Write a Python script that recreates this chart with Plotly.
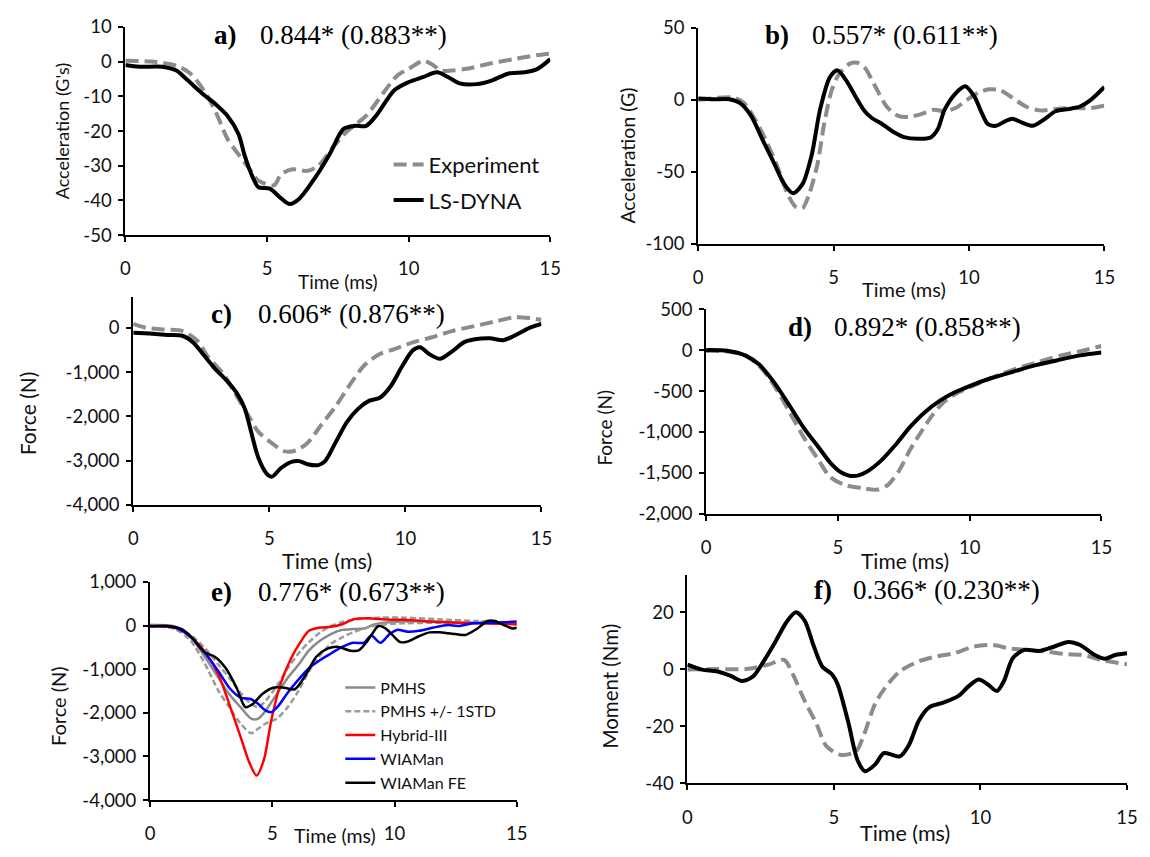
import plotly.graph_objects as go

PAGE_W, PAGE_H = 1150, 857
OFF = 8  # default body margin of the html page
W, H = PAGE_W - 2 * OFF, PAGE_H - 2 * OFF

# ---------------- data ----------------
# a) head acceleration
A_T_EXP = [0, 0.9, 1.8, 2.3, 2.8, 3.2, 3.6, 4.0, 4.35, 4.7, 5.25, 5.5, 5.9, 6.4, 6.8, 7.3, 7.8, 8.5, 9.1, 9.6, 10, 10.5, 10.8, 11.15, 11.5, 12.05, 12.8, 13.7, 14.5, 15]
A_EXP = [0.2, 0, -1.2, -3.5, -8.7, -14.7, -22.2, -26.8, -30.6, -34.3, -35.6, -32.4, -31, -31.5, -30.1, -25, -20.3, -15.6, -9.1, -4, -2.1, 0.2, -0.7, -2.6, -2.6, -2.1, -0.7, 0.7, 1.8, 2.3]
A_T_LS = [0, 0.5, 1.3, 1.8, 2.2, 2.7, 3.2, 3.6, 4.0, 4.2, 4.5, 4.7, 5.1, 5.5, 5.8, 6.15, 6.7, 7.2, 7.7, 8.1, 8.5, 8.85, 9.5, 10, 10.5, 11, 11.4, 11.8, 12.4, 12.95, 13.5, 14.1, 14.55, 15]
A_LS = [-1, -1.5, -1.5, -2.6, -5.4, -9.1, -12.4, -15.6, -21, -26.8, -33.4, -36.2, -36.6, -39.4, -41, -39.4, -33.4, -26.8, -19.4, -18.5, -18.5, -15.6, -8.2, -5.9, -4.5, -3.1, -4.5, -6.3, -6.5, -5.4, -3.5, -3.1, -2.1, 0.7]

# b) acceleration
B_T_EXP = [0, 1.3, 1.7, 2.1, 2.5, 2.9, 3.3, 3.6, 3.85, 4.1, 4.4, 4.66, 4.93, 5.2, 5.6, 5.88, 6.15, 6.55, 6.96, 7.36, 7.77, 8.18, 8.7, 9.1, 9.5, 9.93, 10.34, 10.74, 11.15, 11.55, 12.1, 12.6, 13.2, 13.85, 14.5, 15]
B_EXP = [0, 1.5, -2.3, -13.6, -28.1, -45, -65.2, -74.2, -75.3, -65.2, -45, -15.8, 6.7, 17.9, 25.1, 25.7, 22.4, 8.9, -4.6, -10.9, -11.8, -10.2, -6.8, -7.9, -5.7, 0, 4.9, 7.3, 6.7, 2.2, -4.6, -7.3, -6.3, -5.7, -5.7, -4.1]
B_T_LS = [0, 0.6, 1.15, 1.55, 1.96, 2.36, 2.77, 3.18, 3.5, 3.85, 4.19, 4.5, 4.86, 5.14, 5.47, 5.88, 6.15, 6.4, 6.8, 7.23, 7.6, 8.2, 8.6, 8.85, 9.1, 9.5, 9.86, 10.2, 10.47, 10.7, 11.0, 11.35, 11.6, 11.96, 12.36, 12.77, 13.2, 13.7, 14.1, 14.5, 15]
B_LS = [1, 0.4, 0.4, -2.3, -11.3, -27, -42.7, -58.5, -64.8, -58.5, -38.3, -6.8, 15.6, 20.6, 13.4, 0, -7.9, -12.4, -16.9, -22.5, -25.9, -27, -25.9, -20.3, -6.8, 4.4, 9.4, 2.2, -9, -16.9, -18, -14.7, -13.1, -15.8, -18, -13.6, -7.9, -6.3, -4.6, 0, 8.9]

# c) force
C_T_EXP = [0, 0.47, 1.14, 1.8, 2.35, 2.75, 3.3, 3.8, 4.23, 4.6, 5.17, 5.57, 5.97, 6.4, 6.9, 7.45, 8.0, 8.5, 9.06, 9.6, 10.27, 10.94, 11.74, 12.55, 13.36, 14.0, 14.56, 15]
C_EXP = [90, 0, -40, -70, -290, -660, -1030, -1540, -1980, -2350, -2640, -2790, -2770, -2600, -2200, -1760, -1250, -840, -590, -480, -330, -220, -70, 40, 150, 235, 220, 180]
C_T_LS = [0, 0.6, 1.27, 1.8, 2.2, 2.6, 3.0, 3.4, 3.8, 4.1, 4.36, 4.6, 4.9, 5.1, 5.44, 5.84, 6.1, 6.4, 6.8, 7.05, 7.45, 7.85, 8.26, 8.66, 9.06, 9.46, 9.87, 10.27, 10.54, 10.87, 11.27, 11.68, 12.15, 12.55, 13.1, 13.6, 14.0, 14.56, 15]
C_LS = [-110, -130, -160, -180, -330, -620, -920, -1170, -1470, -1830, -2420, -2940, -3290, -3360, -3160, -3020, -3010, -3080, -3100, -3010, -2570, -2130, -1830, -1650, -1580, -1320, -880, -510, -440, -590, -700, -550, -330, -260, -235, -280, -180, 0, 90]

# d) force
D_T_EXP = [0, 0.8, 1.5, 2.05, 2.6, 3.17, 3.72, 4.28, 4.7, 5.25, 5.94, 6.5, 6.9, 7.33, 7.75, 8.17, 8.58, 9.0, 9.55, 10.1, 10.94, 11.78, 12.6, 13.44, 14.28, 15]
D_EXP = [-8, -16, -67, -205, -442, -758, -1074, -1351, -1548, -1647, -1687, -1706, -1647, -1469, -1213, -995, -798, -640, -521, -442, -324, -225, -146, -67, -8, 51]
D_T_LS = [0, 0.8, 1.5, 2.05, 2.6, 3.17, 3.72, 4.28, 4.7, 5.1, 5.6, 6.08, 6.64, 7.2, 7.75, 8.3, 8.86, 9.4, 9.97, 10.8, 11.64, 12.47, 13.3, 14.14, 15]
D_LS = [0, -8, -67, -186, -403, -680, -956, -1193, -1371, -1489, -1540, -1489, -1351, -1153, -936, -758, -620, -521, -442, -344, -265, -186, -126, -67, -28]

# e) force, several surrogates
E_T_PMHS = [0, 1.0, 1.6, 2.2, 2.8, 3.24, 3.7, 4.14, 4.43, 4.73, 5.18, 5.63, 6.07, 6.5, 6.96, 7.4, 7.86, 8.3, 8.75, 9.2, 9.94, 11.13, 12.6, 14.1, 15]
E_PMHS = [10, -20, -230, -680, -1200, -1575, -1870, -2135, -2135, -1950, -1575, -1200, -900, -570, -345, -195, -100, -80, -70, 30, 80, 100, 65, 50, 30]
E_T_UP = [0, 1.0, 1.6, 2.2, 2.8, 3.24, 3.7, 4.14, 4.43, 4.73, 5.18, 5.63, 6.07, 6.5, 6.96, 7.4, 7.86, 8.45, 9.35, 10.4, 11.9, 13.36, 15]
E_UP = [10, -30, -195, -490, -900, -1200, -1540, -1800, -1870, -1720, -1390, -980, -640, -380, -157, -10, 80, 140, 180, 180, 140, 105, 65]
E_T_LO = [0, 1.0, 1.6, 2.2, 2.8, 3.24, 3.7, 4.14, 4.43, 4.73, 5.18, 5.63, 6.07, 6.5, 6.96, 7.4, 7.86, 8.3, 8.9, 9.64, 10.4, 11.9, 15]
E_LO = [-10, -80, -305, -830, -1500, -1870, -2245, -2470, -2360, -2245, -2135, -1870, -1500, -1050, -680, -420, -270, -157, -45, 30, 50, 65, 50]
E_T_H3 = [0, 1.0, 1.46, 1.9, 2.35, 2.8, 3.24, 3.7, 4.06, 4.36, 4.66, 4.96, 5.33, 5.77, 6.15, 6.5, 6.96, 7.4, 7.86, 8.3, 8.9, 9.64, 10.4, 11.9, 13.36, 15]
E_H3 = [-10, -45, -157, -380, -680, -1130, -1800, -2545, -3140, -3440, -3070, -2170, -1350, -750, -380, -120, -45, -30, 30, 140, 165, 140, 130, 80, 50, 30]
E_T_WI = [0, 1.0, 1.6, 2.2, 2.8, 3.24, 3.7, 4.14, 4.43, 4.73, 4.96, 5.25, 5.63, 6.07, 6.5, 6.96, 7.4, 7.86, 8.3, 8.75, 9.05, 9.42, 9.8, 10.1, 10.54, 11.0, 11.6, 12.2, 12.6, 13.2, 14.1, 15]
E_WI = [-10, -45, -230, -600, -1050, -1425, -1650, -1690, -1800, -1950, -1985, -1840, -1540, -1240, -980, -790, -640, -490, -395, -395, -230, -395, -195, -100, -140, -120, -45, 10, -10, 50, 65, 90]
E_T_FE = [0, 0.7, 1.3, 1.76, 2.2, 2.65, 3.1, 3.54, 3.9, 4.2, 4.58, 5.03, 5.48, 5.92, 6.37, 6.8, 7.26, 7.7, 8.15, 8.53, 8.9, 9.35, 9.64, 9.94, 10.24, 10.54, 11.0, 11.43, 11.9, 12.5, 12.9, 13.36, 13.8, 14.1, 14.55, 14.85, 15]
E_FE = [-20, -10, -80, -305, -600, -715, -980, -1425, -1870, -1800, -1575, -1425, -1425, -1460, -1130, -715, -530, -490, -570, -570, -345, -10, -70, -230, -380, -365, -245, -157, -157, -195, -215, -80, 105, 105, -10, -70, -45]

# f) moment
F_T_EXP = [0, 1.0, 2.0, 2.75, 3.3, 3.6, 4.0, 4.4, 4.75, 5.25, 5.75, 6.0, 6.4, 6.75, 7.25, 7.9, 8.5, 9.1, 9.75, 10.4, 11.0, 11.6, 12.25, 12.9, 13.5, 14.1, 15]
F_EXP = [-0.1, 0.1, 0.1, 1.6, 3.3, -1.8, -11, -19, -27, -30, -28.8, -23.6, -12.2, -6.4, -0.7, 2.8, 4.5, 5.6, 7.9, 8.5, 7.3, 6.8, 6.2, 5.3, 5, 3.3, 1.8]
F_T_LS = [0, 0.5, 1.0, 1.5, 1.88, 2.25, 2.6, 3.0, 3.38, 3.7, 4.0, 4.3, 4.6, 4.94, 5.13, 5.5, 5.8, 6.06, 6.4, 6.7, 7.0, 7.25, 7.56, 7.9, 8.25, 8.75, 9.25, 9.6, 9.94, 10.25, 10.56, 10.8, 11.1, 11.5, 12.0, 12.5, 13.0, 13.4, 13.9, 14.25, 14.6, 15]
F_LS = [1.6, -0.1, -0.7, -2.4, -4.1, -2.4, 2.8, 9.6, 16.5, 20, 17.1, 8.5, 1, -1.8, -5.3, -19, -31.7, -35.7, -33.4, -29.4, -30, -30.5, -26.5, -17.9, -13.3, -11.6, -9.3, -5.9, -3.6, -5.3, -7.6, -4.1, 3.9, 6.8, 6.4, 7.9, 9.6, 8.5, 5, 3.7, 5, 5.6]

X_TICKS = [0, 5, 10, 15]
A_TICKS = [-50, -40, -30, -20, -10, 0, 10]
B_TICKS = [-100, -50, 0, 50]
C_TICKS = [-4000, -3000, -2000, -1000, 0]
D_TICKS = [-2000, -1500, -1000, -500, 0, 500]
E_TICKS = [-4000, -3000, -2000, -1000, 0, 1000]
F_TICKS = [-40, -20, 0, 20]

LABELS = ["a)", "b)", "c)", "d)", "e)", "f)"]
SCORES = ["0.844* (0.883**)", "0.557* (0.611**)", "0.606* (0.876**)",
          "0.892* (0.858**)", "0.776* (0.673**)", "0.366* (0.230**)"]
Y_TITLES = ["Acceleration (G's)", "Acceleration (G)", "Force (N)", "Force (N)", "Force (N)", "Moment (Nm)"]
X_TITLE = "Time (ms)"


def lab(v):
    s = f"{abs(v):,}"
    return ("-" + s) if v < 0 else s


# positions below are given in page pixels; convert to paper fractions
def fx(px):
    return (px - OFF) / W


def fy(py):
    return 1 - (py - OFF) / H


GRAY = "#8c8c8c"
FONT = "Lato, 'Open Sans', sans-serif"
SERIF = "'Liberation Serif', 'DejaVu Serif', serif"
TXT = "#111111"

fig = go.Figure()

# panel geometry in page pixels: (x_left, x_right, y_top, y_bottom, yrange, yticks)
panels = [
    (122, 553, 15, 229, [-50, 10], A_TICKS),
    (703, 1115, 16, 238, [-100, 50], B_TICKS),
    (130, 544, 292, 506, [-4000, 705], C_TICKS),
    (711, 1112, 305, 515, [-2000, 500], D_TICKS),
    (147, 519, 585, 809, [-4000, 1000], E_TICKS),
    (692, 1138, 578, 792, [-40, 33], F_TICKS),
]

layout = {}
for i, (xl, xr, yt, yb, yr, yt_vals) in enumerate(panels):
    n = "" if i == 0 else str(i + 1)
    layout["xaxis" + n] = dict(
        domain=[fx(xl), fx(xr)], range=[0, 15], anchor="y" + n,
        tickvals=X_TICKS, ticktext=[str(v) for v in X_TICKS],
        showline=True, linecolor="black", linewidth=2,
        ticks="outside", ticklen=5, tickwidth=2, tickcolor="black",
        showgrid=False, zeroline=False, ticklabelstandoff=11,
        tickfont=dict(family=FONT, size=18.5, color=TXT), fixedrange=True)
    layout["yaxis" + n] = dict(
        domain=[fy(yb), fy(yt)], range=yr, anchor="x" + n,
        tickvals=yt_vals, ticktext=[lab(v) for v in yt_vals],
        showline=True, linecolor="black", linewidth=2,
        ticks="outside", ticklen=5, tickwidth=2, tickcolor="black",
        showgrid=False, zeroline=False, ticklabelstandoff=3,
        tickfont=dict(family=FONT, size=18.5, color=TXT), fixedrange=True)


def add(x, y, k, color, width, dash=None, name=None, legend=None, show=False, group=None):
    n = "" if k == 0 else str(k + 1)
    fig.add_trace(go.Scatter(
        x=x, y=y, mode="lines", xaxis="x" + n, yaxis="y" + n,
        line=dict(color=color, width=width, dash=dash, shape="spline", smoothing=0.8),
        name=name, showlegend=show, legend=legend, legendgroup=group))


DASH = "13px,6px"
add(A_T_EXP, A_EXP, 0, GRAY, 4, DASH, "Experiment", "legend", True, "a1")
add(A_T_LS, A_LS, 0, "black", 4, None, "LS-DYNA", "legend", True, "a2")
add(B_T_EXP, B_EXP, 1, GRAY, 4, DASH, "Experiment")
add(B_T_LS, B_LS, 1, "black", 4, None, "LS-DYNA")
add(C_T_EXP, C_EXP, 2, GRAY, 4, DASH, "Experiment")
add(C_T_LS, C_LS, 2, "black", 4, None, "LS-DYNA")
add(D_T_EXP, D_EXP, 3, GRAY, 4, DASH, "Experiment")
add(D_T_LS, D_LS, 3, "black", 4, None, "LS-DYNA")
add(E_T_PMHS, E_PMHS, 4, "#8a8a8a", 2.5, None, "PMHS", "legend2", True, "e1")
add(E_T_UP, E_UP, 4, "#9a9a9a", 2.5, "6px,3px", "PMHS +/- 1STD", "legend2", True, "e2")
add(E_T_LO, E_LO, 4, "#9a9a9a", 2.5, "6px,3px", "PMHS +/- 1STD", "legend2", False, "e2")
add(E_T_H3, E_H3, 4, "#ff0000", 2.5, None, "Hybrid-III", "legend2", True, "e3")
add(E_T_WI, E_WI, 4, "#0000ff", 2.5, None, "WIAMan", "legend2", True, "e4")
add(E_T_FE, E_FE, 4, "black", 2.5, None, "WIAMan FE", "legend2", True, "e5")
add(F_T_EXP, F_EXP, 5, GRAY, 4, DASH, "Experiment")
add(F_T_LS, F_LS, 5, "black", 4, None, "LS-DYNA")

ann = []
# panel titles: (label left px, score left px, center y px)
title_pos = [(210, 257, 23), (769, 816, 23), (207, 254, 310),
             (792, 839, 323), (207, 254, 595), (818, 858, 593)]
for (lx, sx, cy), l, s in zip(title_pos, LABELS, SCORES):
    ann.append(dict(x=fx(lx), y=fy(cy), xref="paper", yref="paper", xanchor="left", yanchor="middle",
                    text="<b>" + l + "</b>", showarrow=False, font=dict(family=SERIF, size=27, color="black")))
    ann.append(dict(x=fx(sx), y=fy(cy), xref="paper", yref="paper", xanchor="left", yanchor="middle",
                    text=s, showarrow=False, font=dict(family=SERIF, size=27, color="black")))

# y-axis titles: (center x, center y, size)
ytitle_pos = [(58, 122, 18), (631, 147, 19.5), (23, 412, 21), (608, 427, 19), (53, 712, 20), (614, 692, 20.5)]
for (cx, cy, sz), t in zip(ytitle_pos, Y_TITLES):
    ann.append(dict(x=fx(cx), y=fy(cy), xref="paper", yref="paper", xanchor="center", yanchor="middle",
                    text=t, textangle=-90, showarrow=False, font=dict(family=FONT, size=sz, color=TXT)))
# x-axis titles
xtitle_pos = [(338, 277, 19), (912, 284, 20), (327, 564, 21.5), (913, 563, 21), (335, 845, 19.5), (913, 843, 21.5)]
for (cx, cy, sz) in xtitle_pos:
    ann.append(dict(x=fx(cx), y=fy(cy), xref="paper", yref="paper", xanchor="center", yanchor="middle",
                    text=X_TITLE, showarrow=False, font=dict(family=FONT, size=sz, color=TXT)))

fig.update_layout(
    width=W, height=H, margin=dict(l=0, r=0, t=0, b=0),
    paper_bgcolor="white", plot_bgcolor="white",
    annotations=ann,
    legend=dict(x=fx(389), y=fy(135), xanchor="left", yanchor="top", bgcolor="rgba(0,0,0,0)",
                font=dict(family=FONT, size=22, color=TXT), tracegroupgap=4, traceorder="grouped"),
    legend2=dict(x=fx(340), y=fy(676), xanchor="left", yanchor="top", bgcolor="rgba(0,0,0,0)",
                 font=dict(family=FONT, size=16, color=TXT), tracegroupgap=0, traceorder="grouped"),
    **layout,
)

fig.write_html("out.html")
